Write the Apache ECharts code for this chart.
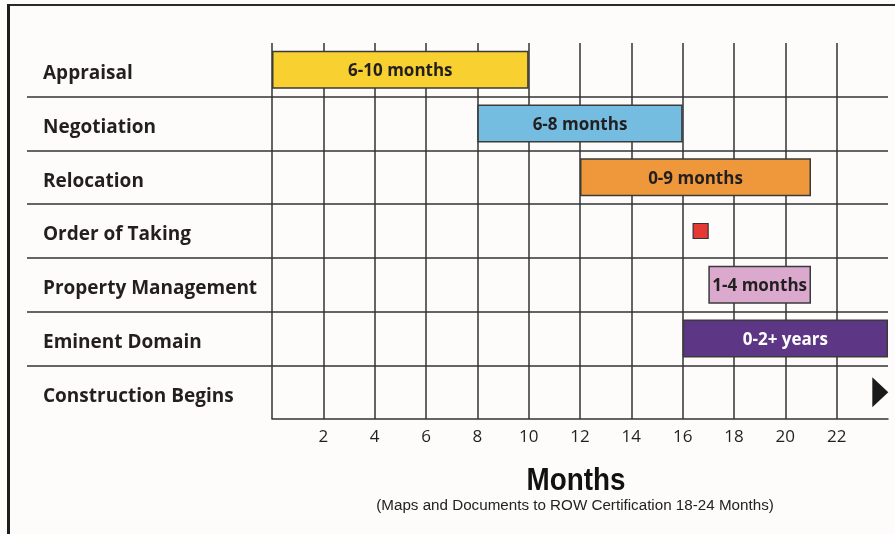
<!DOCTYPE html>
<html>
<head>
<meta charset="utf-8">
<script src="https://cdn.jsdelivr.net/npm/echarts@6/dist/echarts.min.js"></script>
<style>
html,body{margin:0;padding:0;background:#fdfcfb;}
#chart{width:895px;height:534px;}
</style>
</head>
<body>
<div id="chart"></div>
<script>
// ---- data ----
const categories = ['Appraisal', 'Negotiation', 'Relocation', 'Order of Taking', 'Property Management', 'Eminent Domain', 'Construction Begins'];
const barStart = [0, 8, 12, null, 17, 16, null];
const barEnd = [10, 16, 21, null, 21, 24, null];
const barLabels = ['6-10 months', '6-8 months', '0-9 months', '', '1-4 months', '0-2+ years', ''];
const barColors = ['#f8d030', '#74bde1', '#ee983b', null, '#dba8ce', '#5e3686', null];
const labelColors = ['#231f20', '#231f20', '#231f20', '#231f20', '#231f20', '#ffffff', '#231f20'];
const orderOfTaking = [[16.7, 'Order of Taking']];
const constructionBegins = [[23.7, 'Construction Begins']];
const tickLabels = [2, 4, 6, 8, 10, 12, 14, 16, 18, 20, 22];
const axisMin = 0, axisMax = 24, axisStep = 2;
const titleText = 'Months';
const subtitleText = '(Maps and Documents to ROW Certification 18-24 Months)';

// ---- chart ----
const chart = echarts.init(document.getElementById('chart'), null, {renderer: 'canvas'});
const lineCol = '#333333';
const T = 'transparent';

const baseData = barStart.map(v => v == null ? '-' : v);
const durData = barStart.map((s, i) => {
  if (s == null) return '-';
  return {
    value: barEnd[i] - s,
    itemStyle: {color: barColors[i]},
    label: {color: labelColors[i]}
  };
});

const nX = Math.round((axisMax - axisMin) / axisStep) + 1;
const xSplitColors = [];
for (let i = 0; i < nX; i++) xSplitColors.push(i === nX - 1 ? T : lineCol);
const ySplitColors = [];
for (let i = 0; i <= categories.length; i++) ySplitColors.push((i === 0 || i === categories.length) ? T : lineCol);

const option = {
  backgroundColor: '#fdfcfb',
  animation: false,
  grid: [
    {left: 272, right: 7, top: 43, bottom: 115},
    {left: 27, right: 7, top: 43, bottom: 115}
  ],
  xAxis: [
    {
      type: 'value', gridIndex: 0, min: axisMin, max: axisMax, interval: axisStep,
      axisLine: {show: true, onZero: false, lineStyle: {color: lineCol, width: 1.5}},
      axisTick: {show: false},
      splitLine: {show: true, lineStyle: {color: xSplitColors, width: 1.5}},
      axisLabel: {
        margin: 10, fontFamily: 'Open Sans', fontSize: 17, color: '#231f20',
        formatter: v => tickLabels.indexOf(v) >= 0 ? String(v) : ''
      }
    },
    {
      type: 'value', gridIndex: 1, min: 0, max: 1, show: false
    }
  ],
  yAxis: [
    {
      type: 'category', gridIndex: 0, data: categories, inverse: true,
      axisLine: {show: false}, axisTick: {show: false},
      splitLine: {show: false},
      axisLabel: {
        align: 'left', margin: 229, fontFamily: 'Open Sans', fontWeight: 'bold',
        fontSize: 19, color: '#231f20', verticalAlign: 'top', lineHeight: 8
      }
    },
    {
      type: 'category', gridIndex: 1, data: categories, inverse: true,
      axisLine: {show: false}, axisTick: {show: false}, axisLabel: {show: false},
      splitLine: {show: true, lineStyle: {color: ySplitColors, width: 1.5}}
    }
  ],
  graphic: [
    {type: 'rect', shape: {x: 8, y: 4, width: 887, height: 2}, style: {fill: '#2a2a2a'}, silent: true},
    {type: 'rect', shape: {x: 7, y: 4, width: 3, height: 530}, style: {fill: '#1e1e1e'}, silent: true},
    {
      type: 'text', x: 576, y: 481, scaleX: 0.87,
      style: {text: titleText, fontFamily: 'Liberation Sans', fontWeight: 'bold', fontSize: 32,
        fill: '#111', textAlign: 'center', textVerticalAlign: 'middle'}
    },
    {
      type: 'text', x: 575, y: 506,
      style: {text: subtitleText, fontFamily: 'Liberation Sans', fontSize: 15.2,
        fill: '#222', textAlign: 'center', textVerticalAlign: 'middle'}
    }
  ],
  series: [
    {
      type: 'bar', xAxisIndex: 0, yAxisIndex: 0, stack: 'g', data: baseData,
      itemStyle: {color: T}, barWidth: 38, silent: true
    },
    {
      type: 'bar', xAxisIndex: 0, yAxisIndex: 0, stack: 'g', data: durData, barWidth: 38,
      itemStyle: {borderColor: '#3a3a3a', borderWidth: 1.5},
      label: {
        show: true, position: 'inside', offset: [0, 1.5], fontFamily: 'Open Sans', fontWeight: 'bold', fontSize: 17,
        formatter: p => barLabels[p.dataIndex]
      }
    },
    {
      type: 'scatter', xAxisIndex: 0, yAxisIndex: 0, data: orderOfTaking,
      symbol: 'rect', symbolSize: 15,
      itemStyle: {color: '#e53a33', borderColor: '#333', borderWidth: 1.2, opacity: 1}
    },
    {
      type: 'scatter', xAxisIndex: 0, yAxisIndex: 0, data: constructionBegins, clip: false,
      symbol: 'triangle', symbolRotate: -90, symbolSize: [30, 16],
      itemStyle: {color: '#1a1a1a', opacity: 1}
    }
  ]
};
chart.setOption(option);
</script>
</body>
</html>
